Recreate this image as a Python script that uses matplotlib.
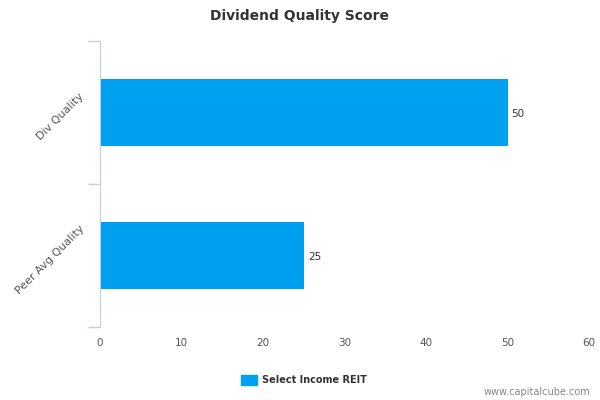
import numpy as np
import matplotlib.pyplot as plt
import matplotlib.transforms as mtransforms
from matplotlib.patches import Patch

# Dados do gráfico
categorias = ["Div Quality", "Peer Avg Quality"]
valores = [50, 25]
serie = "Select Income REIT"
xticks = [0, 10, 20, 30, 40, 50, 60]

cor_barra = "#00A0F0"
cor_eixo = "#C0D0E0"
cor_texto = "#555555"

fig = plt.figure(figsize=(6, 4), dpi=100)
ax = fig.add_axes([100 / 600, 1 - 327 / 400, 489 / 600, 286 / 400])

pos = np.arange(len(categorias))
ax.barh(pos, valores, height=0.475, color=cor_barra)
for p, v in zip(pos, valores):
    ax.text(v + 0.5, p + 0.01, str(v), va="center", ha="left", fontsize=7.5, color="#333333")

ax.set_xlim(0, 60)
ax.set_ylim(1.5, -0.5)
ax.set_xticks(xticks)
ax.set_xticklabels([str(t) for t in xticks], fontsize=7.5, color=cor_texto)
ax.tick_params(axis="x", length=0, pad=8)

# Limites das categorias como ticks principais, rótulos como ticks menores
ax.set_yticks([-0.5, 0.5, 1.5])
ax.set_yticklabels([])
ax.tick_params(axis="y", which="major", length=9, color=cor_eixo, width=1)
ax.set_yticks(pos, minor=True)
ax.set_yticklabels(categorias, minor=True, rotation=45, ha="right", va="center",
                   rotation_mode="default", fontsize=8, color=cor_texto)
ax.tick_params(axis="y", which="minor", length=0, pad=10)
desloc = mtransforms.ScaledTranslation(0, -4 / 100, fig.dpi_scale_trans)
for rot in ax.get_yticklabels(minor=True):
    rot.set_transform(rot.get_transform() + desloc)

for lado in ["top", "right", "bottom"]:
    ax.spines[lado].set_visible(False)
ax.spines["left"].set_color(cor_eixo)

fig.text(0.5, 1 - 16 / 400, "Dividend Quality Score", ha="center", va="center",
         fontsize=10, fontweight="bold", color="#333333")

leg = fig.legend(handles=[Patch(color=cor_barra, label=serie)], loc="center",
                 bbox_to_anchor=(304 / 600, 1 - 380 / 400), frameon=False,
                 handlelength=1.6, handleheight=1.2, handletextpad=0.5,
                 prop={"size": 7, "weight": "bold"})
for t in leg.get_texts():
    t.set_color("#333333")

fig.text(590 / 600, 1 - 392 / 400, "www.capitalcube.com", ha="right", va="center",
         fontsize=7, color="#888888")

fig.savefig("out.png", dpi=100)
